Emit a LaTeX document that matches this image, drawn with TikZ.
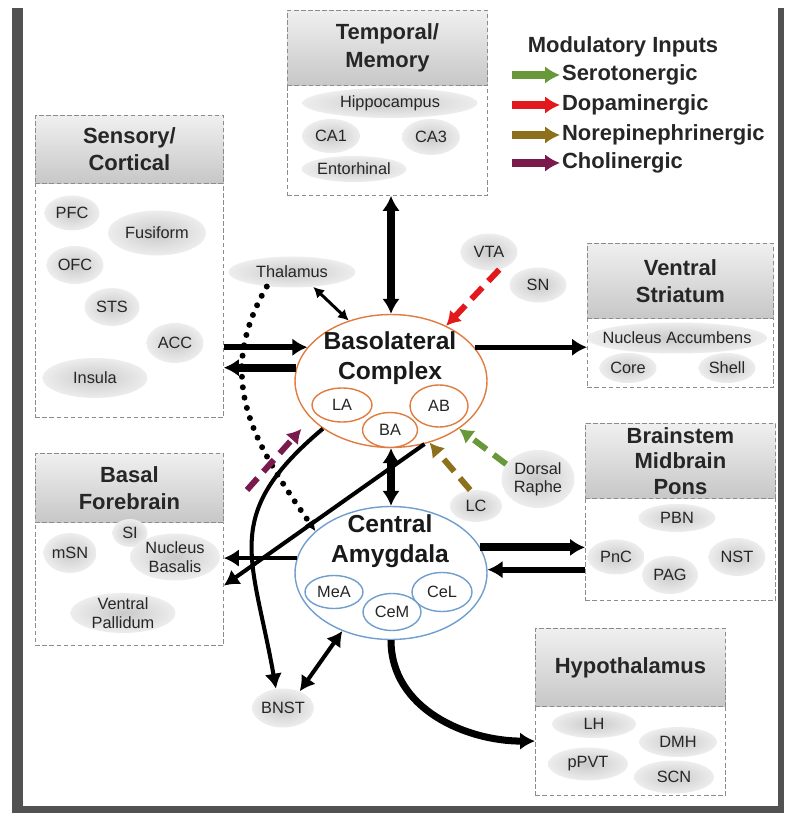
\documentclass[tikz,border=0pt]{standalone}
\usepackage{fontspec}
\setmainfont{Liberation Sans}
\usetikzlibrary{arrows.meta,shapes.geometric,calc}

\definecolor{serocol}{RGB}{104,152,58}
\definecolor{dopacol}{RGB}{226,24,28}
\definecolor{norecol}{RGB}{140,112,28}
\definecolor{cholcol}{RGB}{122,26,76}
\definecolor{blacol}{RGB}{224,124,64}
\definecolor{ceacol}{RGB}{112,158,206}

\begin{document}
\begin{tikzpicture}[x=0.02cm,y=-0.02cm,
  areabox/.style={draw=black!45,dash pattern=on 2.5pt off 1.5pt,line width=0.5pt,anchor=north west,inner sep=0pt},
  areahead/.style={areabox,top color=black!6,bottom color=black!22,align=center,font=\fontsize{12.5}{15.5}\selectfont\bfseries,text=black!85},
  region/.style={ellipse,inner sep=0pt,inner color=black!21,outer color=black!7,text=black!85,font=\fontsize{9.3}{10.5}\selectfont,align=center},
  nucleus/.style={ellipse,line width=0.8pt,inner sep=0pt,fill=white,font=\fontsize{9.3}{10.5}\selectfont,text=black!85},
  bigtext/.style={font=\fontsize{14}{17}\selectfont\bfseries,align=center,text=black!90},
  legtext/.style={font=\fontsize{12.5}{15}\selectfont\bfseries,text=black!85,inner sep=1pt},
  fwd/.style={line width=#1,-{Latex[length=8.5pt,width=10pt]}},fwd/.default=2.8pt,
  both/.style={line width=#1,{Latex[length=8.5pt,width=10pt]}-{Latex[length=8.5pt,width=10pt]}},both/.default=4pt,
  modarrow/.style={line width=3.4pt,dash pattern=on 9pt off 5pt,-{Latex[length=8pt,width=9.5pt]}},
  legarrow/.style={line width=4pt,-{Latex[length=8.5pt,width=10pt]}},
  dotline/.style={line width=3.4pt,line cap=round,dash pattern=on 0pt off 6pt,-{Latex[length=6pt,width=6.5pt]}}]

\useasboundingbox (0,0) rectangle (784,813);
% frame
\fill[black!68] (12,8) rectangle (23,813);
\fill[black!68] (12,806) rectangle (784,813);
\fill[black!68] (778,8) rectangle (784,813);

% Boxes
\node[areabox,minimum width=4cm,minimum height=3.7cm] (tmp) at (287,10) {};
\node[areahead,minimum width=4cm,minimum height=1.5cm] (tmphead) at (287,10) {Temporal/\\Memory};
\node[areabox,minimum width=3.76cm,minimum height=6.04cm] (sens) at (35,115) {};
\node[areahead,minimum width=3.76cm,minimum height=1.36cm] (senshead) at (35,115) {Sensory/\\Cortical};
\node[areabox,minimum width=3.72cm,minimum height=2.88cm] (vs) at (587,243) {};
\node[areahead,minimum width=3.72cm,minimum height=1.5cm] (vshead) at (587,243) {Ventral\\Striatum};
\node[areabox,minimum width=3.8cm,minimum height=3.54cm] (bs) at (585,423) {};
\node[areahead,minimum width=3.8cm,minimum height=1.5cm,font=\fontsize{12.5}{14.5}\selectfont\bfseries] (bshead) at (585,423) {Brainstem\\Midbrain\\Pons};
\node[areabox,minimum width=3.76cm,minimum height=3.84cm] (bf) at (35,453) {};
\node[areahead,minimum width=3.76cm,minimum height=1.38cm] (bfhead) at (35,453) {Basal\\Forebrain};
\node[areabox,minimum width=3.8cm,minimum height=3.34cm] (hyp) at (535,628) {};
\node[areahead,minimum width=3.8cm,minimum height=1.56cm] (hyphead) at (535,628) {Hypothalamus};

% Regions
\node[region,minimum width=3.5cm,minimum height=0.6cm] (hippo) at (390,103) {Hippocampus};
\node[region,minimum width=1.16cm,minimum height=0.68cm] (ca1) at (331,136) {CA1};
\node[region,minimum width=1.16cm,minimum height=0.72cm] (ca3) at (431,137) {CA3};
\node[region,minimum width=2.1cm,minimum height=0.52cm] (ento) at (354,169) {Entorhinal};

\node[region,minimum width=1.1cm,minimum height=0.7cm] (pfc) at (72,213) {PFC};
\node[region,minimum width=1.96cm,minimum height=0.9cm] (fusi) at (157,233) {Fusiform};
\node[region,minimum width=1.14cm,minimum height=0.76cm] (ofc) at (75,265) {OFC};
\node[region,minimum width=1.1cm,minimum height=0.76cm] (sts) at (112,307) {STS};
\node[region,minimum width=1.14cm,minimum height=0.8cm] (acc) at (175,343) {ACC};
\node[region,minimum width=2.1cm,minimum height=0.8cm] (insula) at (95,378) {Insula};

\node[region,minimum width=3.6cm,minimum height=0.62cm] (nacc) at (677,338) {\makebox[0pt]{Nucleus Accumbens}};
\node[region,minimum width=1.14cm,minimum height=0.6cm] (core) at (628,368) {Core};
\node[region,minimum width=1.14cm,minimum height=0.6cm] (shell) at (727,368) {Shell};

\node[region,minimum width=1.54cm,minimum height=0.56cm] (pbn) at (677,518) {PBN};
\node[region,minimum width=1.14cm,minimum height=0.7cm] (pnc) at (616,557) {PnC};
\node[region,minimum width=1.12cm,minimum height=0.76cm] (pag) at (670,575) {PAG};
\node[region,minimum width=1.14cm,minimum height=0.76cm] (nst) at (737,557) {NST};

\node[region,minimum width=1.06cm,minimum height=0.8cm] (msn) at (70,553) {mSN};
\node[region,minimum width=0.7cm,minimum height=0.56cm] (si) at (130,533) {SI};
\node[region,minimum width=1.8cm,minimum height=0.94cm,inner ysep=-5pt] (nbas) at (175,557) {Nucleus\\Basalis};
\node[region,minimum width=2.1cm,minimum height=0.8cm,inner ysep=-5pt] (vpal) at (123,613) {Ventral\\Pallidum};

\node[region,minimum width=1.68cm,minimum height=0.56cm] (lh) at (594,724) {LH};
\node[region,minimum width=1.56cm,minimum height=0.6cm] (dmh) at (678,742) {DMH};
\node[region,minimum width=1.6cm,minimum height=0.66cm] (ppvt) at (588,764) {pPVT};
\node[region,minimum width=1.6cm,minimum height=0.66cm] (scn) at (674,777) {SCN};

\node[region,minimum width=1.06cm,minimum height=0.78cm] (bnst) at (283,708) {BNST};
\node[region,minimum width=2.54cm,minimum height=0.62cm] (thal) at (292,272) {Thalamus};
\node[region,minimum width=1.14cm,minimum height=0.74cm] (vta) at (489,252) {VTA};
\node[region,minimum width=1.14cm,minimum height=0.7cm] (sn) at (538,285) {SN};
\node[region,minimum width=1.04cm,minimum height=0.64cm] (lc) at (476,506) {LC};
\node[region,minimum width=1.46cm,minimum height=1.16cm,inner ysep=-5pt] (draphe) at (538,479) {Dorsal\\Raphe};

% Amygdala
\node[nucleus,draw=blacol,minimum width=3.84cm,minimum height=2.66cm] (bla) at (391,381) {};
\node[bigtext] (blatext) at (390,358) {Basolateral\\Complex};
\node[nucleus,draw=blacol,minimum width=1.2cm,minimum height=0.68cm] (la) at (342,405) {LA};
\node[nucleus,draw=blacol,minimum width=1.16cm,minimum height=0.84cm] (ab) at (439,406) {AB};
\node[nucleus,draw=blacol,minimum width=1.1cm,minimum height=0.7cm] (ba) at (390,430) {BA};

\node[nucleus,draw=ceacol,minimum width=3.84cm,minimum height=2.66cm] (cea) at (391,573) {};
\node[bigtext] (ceatext) at (390,541) {Central\\Amygdala};
\node[nucleus,draw=ceacol,minimum width=1.16cm,minimum height=0.66cm] (mea) at (334,592) {MeA};
\node[nucleus,draw=ceacol,minimum width=1.2cm,minimum height=0.78cm] (cel) at (442,592) {CeL};
\node[nucleus,draw=ceacol,minimum width=1.16cm,minimum height=0.74cm] (cem) at (392,612) {CeM};

% Legend
\node[legtext] (modtitle) at (623,47) {Modulatory Inputs};
\node[legtext,anchor=west] (sero) at (560,75) {Serotonergic};
\node[legtext,anchor=west] (dopa) at (560,105) {Dopaminergic};
\node[legtext,anchor=west] (nore) at (560,135) {Norepinephrinergic};
\node[legtext,anchor=west] (chol) at (560,163) {Cholinergic};
\coordinate (seroin) at (512,75);
\coordinate (dopain) at (512,105);
\coordinate (norein) at (512,135);
\coordinate (cholin) at (512,163);
\draw[legarrow,serocol] (seroin) -- (sero.west);
\draw[legarrow,dopacol] (dopain) -- (dopa.west);
\draw[legarrow,norecol] (norein) -- (nore.west);
\draw[legarrow,cholcol] (cholin) -- (chol.west);

%arcs
\path (tmp.south -| bla.north) edge[both=4pt] (bla.north);
\path (thal.-35) edge[line width=1.7pt,{Latex[length=6pt,width=6.5pt]}-{Latex[length=6pt,width=6.5pt]}] (bla.125);
\path (bla.158 -| sens.east) edge[fwd=3.4pt] (bla.158);
\path (bla.172) edge[fwd=4.5pt] (bla.172 -| sens.east);
\path (bla.22) edge[fwd=2.8pt] (bla.22 -| vs.west);
\path (bla.south) edge[both=4pt] (cea.north);
\path (cea.16) edge[fwd=4.5pt] (cea.16 -| bs.west);
\path (cea.2 -| bs.west) edge[fwd=3.4pt] (cea.2);
\path (cea.171) edge[fwd=2.3pt] (cea.171 -| bf.east);
\path (bla.-62) edge[fwd=2.3pt] (bf.-21);
\path (bla.-145) edge[fwd=2.3pt,out=220,in=100,looseness=1.3] (bnst.110);
\path (cea.-130) edge[both=2.3pt] (bnst.45);
\path (cea.-90) edge[fwd=4pt,out=-90,in=180] (hyp.197);
\path (thal.-150) edge[dotline,out=240,in=125,looseness=1.1] (cea.151);

% modulatory inputs
\coordinate (achin) at (247,490);
\path (vta.-60) edge[modarrow,dopacol] (bla.45);
\path (draphe.155) edge[modarrow,serocol] (bla.-35);
\path (lc.110) edge[modarrow,norecol] (bla.-58);
\path (achin) edge[modarrow,cholcol,shorten >=8pt] (bla.-155);

\end{tikzpicture}
\end{document}
